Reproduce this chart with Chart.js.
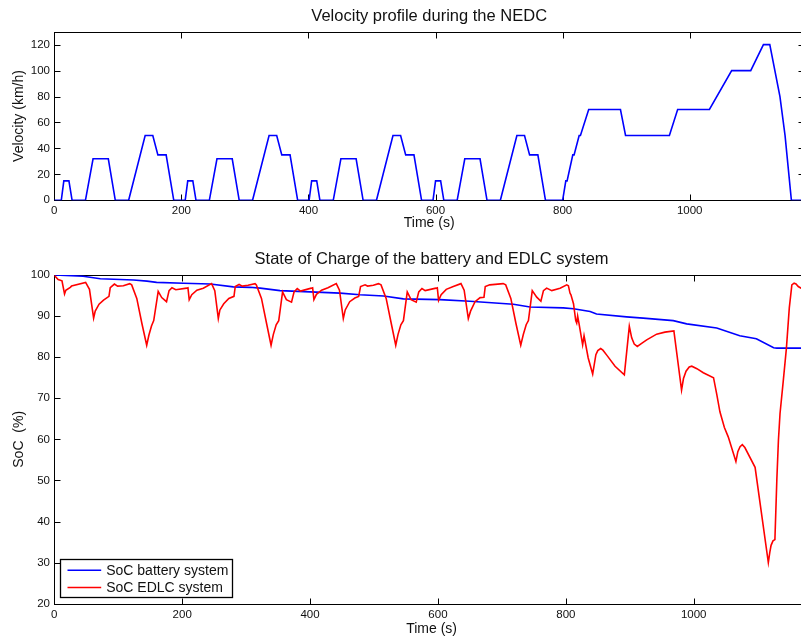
<!DOCTYPE html>
<html><head><meta charset="utf-8">
<script src="https://cdn.jsdelivr.net/npm/chart.js@4.4.0/dist/chart.umd.min.js"></script>
<style>
html,body{margin:0;padding:0;background:#fff;overflow:hidden;width:801px;height:639px;}
#wrap{position:relative;width:801px;height:639px;overflow:hidden;background:#fff;}
canvas{position:absolute;left:0;}
</style></head><body>
<div id="wrap">
<canvas id="c1" width="830" height="232" style="top:0;width:830px;height:232px"></canvas>
<canvas id="c2" width="830" height="409" style="top:230px;width:830px;height:409px"></canvas>
</div>
<script>
// ---- Data ----
const xTicks = [0, 200, 400, 600, 800, 1000];
const velTicks = [0, 20, 40, 60, 80, 100, 120];
const socTicks = [20, 30, 40, 50, 60, 70, 80, 90, 100];

const velTime = [0,11,15,23,28,49,61,85,96,117,143,155,163,176,188,
  206,210,218,223,244,256,280,291,312,338,350,358,371,383,
  401,405,413,418,439,451,475,486,507,533,545,553,566,578,
  596,600,608,613,634,646,670,681,702,728,740,748,761,773,
  800,805,807,816,818,826,828,841,891,899,968,981,1031,1066,1096,1116,1126,1142,1150,1160,1180];
const velocity = [0,0,15,15,0,0,32,32,0,0,50,50,35,35,0,
  0,15,15,0,0,32,32,0,0,50,50,35,35,0,
  0,15,15,0,0,32,32,0,0,50,50,35,35,0,
  0,15,15,0,0,32,32,0,0,50,50,35,35,0,
  0,15,15,35,35,50,50,70,70,50,50,70,70,100,100,120,120,80,50,0,0];

const batTime = [0,45,72,124,145,160,202,244,280,306,
  322,353,400,447,478,515,546,603,650,718,
  744,796,812,838,848,895,921,968,989,1036,
  1072,1098,1125,1130,1180];
const batSoc = [100,99.7,99.1,98.8,98.5,98.2,98.0,97.8,97.1,97.0,
  96.8,96.2,95.9,95.6,95.2,94.9,94.2,94.0,93.6,92.9,
  92.2,92.0,91.8,91.1,90.5,89.8,89.5,88.9,88.1,87.1,
  85.2,84.5,82.3,82.2,82.2];

const edlcTime = [0,6,12,16,18,25,27,49,55,61.5,
  64,70,77,85.5,87.5,94,99,108,118,121,
  129,137,144.5,148,152,155.5,162.5,168,175.5,179.5,
  184,190,207,209,211,215,223,233,246,251,
  256.5,259,265,273,281,283,289,294,303,314,
  316,324,332,339,342.5,347,351,357,363,371,
  375,380,385,402,404,406,410,418,428,441,
  446,452,455,462,470,476,479,486,490,499,
  507,511,519,527,534,537.5,542,546,552,558,
  566,570,575,580,597,599,601,605,613,624,
  636,641,647.5,651,658,666,672,674,681,702,
  706,714,722,729.5,733.5,738,741.5,747.5,754.5,761,
  765,770,778,791,801.5,804,806.5,808,812,815.5,
  817,818.5,820.5,826.3,828.5,835,842,847,850,854.5,
  858,864,877,891.5,899.3,903,907,911.8,918,926.5,
  942,955,969,981,984,988,993,997,1005,1015,
  1031,1036,1041,1048,1054,1066,1069,1072.5,1076,1080,
  1096,1116.7,1119,1121,1124,1127,1130,1132.5,1135,1140,
  1145,1149.5,1153.5,1157,1160,1163.5,1170,1180];
const edlcSoc = [99.9,98.9,98.6,95.4,96.3,97.0,97.3,98.2,96.5,89.5,
  91.2,92.9,93.9,94.8,96.9,97.8,97.3,97.4,97.9,97.6,
  94.3,88.2,82.9,85.4,87.6,88.9,96.0,94.5,93.5,96.2,
  96.9,96.4,96.8,96.9,94.0,95.2,96.3,96.8,97.9,96.2,
  89.4,91.5,93.0,94.3,94.8,97.2,97.7,97.3,97.5,97.9,
  97.6,94.3,88.2,82.9,85.5,87.9,88.9,95.9,94.0,93.4,
  95.9,96.7,96.1,96.8,96.9,94.0,95.3,96.3,96.9,97.9,
  96.3,89.4,91.5,93.5,94.4,94.8,97.2,97.6,97.3,97.5,
  97.9,97.6,94.3,88.2,82.9,85.5,87.9,88.9,95.9,94.0,
  93.4,95.9,96.7,96.2,96.8,96.9,93.8,95.2,96.5,97.2,
  97.9,96.3,89.4,91.2,93.5,94.5,94.6,97.2,97.6,97.9,
  97.6,94.3,88.2,82.9,85.5,87.9,88.9,96.2,94.6,93.6,
  96.2,96.8,96.2,96.8,97.6,97.4,95.6,95.2,93.0,88.9,
  88.3,90.0,88.3,83.0,85.2,79.8,75.9,80.6,81.6,82.1,
  81.7,80.5,77.8,75.7,87.5,84.7,83.2,82.6,83.3,84.2,
  85.6,86.1,86.4,72.0,74.8,76.6,77.6,77.8,77.2,76.2,
  75.0,71.0,66.7,62.9,60.6,54.6,57.0,58.2,58.7,58.0,
  53.2,30.0,32.5,34.2,35.3,35.6,50.1,59.8,66.3,74.1,
  82.2,92.0,97.6,98.0,97.8,97.2,96.6,96.3];

// ---- Styling ----
const FONT = '"Liberation Sans", Arial, Helvetica, sans-serif';
const TXT = '#111';
const pairs = (xs, ys) => xs.map((t, i) => ({x: t, y: ys[i]}));

const framePlugin = {
  id: 'frame',
  beforeDatasetsDraw(chart) {
    const {ctx, chartArea: a, scales: {x, y}} = chart;
    ctx.save();
    ctx.strokeStyle = '#000';
    ctx.lineWidth = 1;
    const L = Math.round(a.left) + 0.5, R = Math.round(a.right) + 0.5;
    const T = Math.round(a.top) + 0.5, B = Math.round(a.bottom) + 0.5;
    ctx.strokeRect(L, T, R - L, B - T);
    ctx.beginPath();
    const len = 6;
    x.ticks.forEach(t => {
      const px = Math.round(x.getPixelForValue(t.value)) + 0.5;
      ctx.moveTo(px, B); ctx.lineTo(px, B - len);
      ctx.moveTo(px, T); ctx.lineTo(px, T + len);
    });
    y.ticks.forEach(t => {
      const py = Math.round(y.getPixelForValue(t.value)) + 0.5;
      ctx.moveTo(L, py); ctx.lineTo(L + len, py);
      ctx.moveTo(R, py); ctx.lineTo(R - len, py);
    });
    ctx.stroke();
    ctx.restore();
  }
};

const legendPlugin = {
  id: 'boxLegend',
  afterDraw(chart) {
    const {ctx, chartArea: a} = chart;
    const x0 = Math.round(a.left + 6) + 0.5, y0 = Math.round(a.bottom - 44.5) + 0.5;
    const w = 172, h = 38;
    ctx.save();
    ctx.fillStyle = '#fff';
    ctx.fillRect(x0, y0, w, h);
    ctx.strokeStyle = '#000';
    ctx.lineWidth = 1.3;
    ctx.strokeRect(x0, y0, w, h);
    ctx.font = '14px ' + FONT;
    ctx.textBaseline = 'middle';
    ctx.textAlign = 'left';
    chart.data.datasets.forEach((ds, i) => {
      const yy = y0 + 10.7 + i * 17.3;
      ctx.strokeStyle = ds.borderColor;
      ctx.lineWidth = 1.6;
      ctx.beginPath();
      ctx.moveTo(x0 + 7, yy); ctx.lineTo(x0 + 40.7, yy);
      ctx.stroke();
      ctx.fillStyle = TXT;
      ctx.fillText(ds.label, x0 + 45.7, yy + 0.5);
    });
    ctx.restore();
  }
};

function xScale(maxV, h, titlePadBottom) {
  return {
    type: 'linear', min: 0, max: maxV,
    afterFit: s => { s.height = h; },
    afterBuildTicks: s => { s.ticks = xTicks.map(v => ({value: v})); },
    ticks: {color: TXT, font: {family: FONT, size: 11.5}, padding: 3.8, maxRotation: 0, autoSkip: false,
      callback: v => String(v)},
    grid: {display: false, drawTicks: false},
    border: {display: false},
    title: {display: true, text: 'Time (s)', color: TXT, font: {family: FONT, size: 14},
      padding: {top: 0, bottom: titlePadBottom}}
  };
}
function yScale(minV, maxV, ticksArr, label) {
  return {
    type: 'linear', min: minV, max: maxV,
    afterFit: s => { s.width = 54.3; },
    afterBuildTicks: s => { s.ticks = ticksArr.map(v => ({value: v})); },
    ticks: {color: TXT, font: {family: FONT, size: 11.5}, padding: 4.3, autoSkip: false,
      callback: v => String(v)},
    grid: {display: false, drawTicks: false},
    border: {display: false},
    title: {display: true, text: label, color: TXT, font: {family: FONT, size: 14},
      padding: {top: 10.8, bottom: 0}}
  };
}

new Chart(document.getElementById('c1'), {
  type: 'line',
  data: {datasets: [{
    label: 'Velocity', data: pairs(velTime, velocity),
    borderColor: '#0000ff', borderWidth: 1.6, pointRadius: 0, tension: 0, fill: false
  }]},
  options: {
    responsive: false, animation: false, devicePixelRatio: 1,
    layout: {padding: {left: 0, right: 25.9, top: 0, bottom: 0}},
    plugins: {
      legend: {display: false}, tooltip: {enabled: false},
      title: {display: true, text: 'Velocity profile during the NEDC', fullSize: false, color: TXT,
        font: {family: FONT, size: 16.5, weight: 'normal'}, padding: {top: 6.5, bottom: 5.4}}
    },
    scales: {x: xScale(1180, 31.7, 0.1), y: yScale(0, 130, velTicks, 'Velocity (km/h)')}
  },
  plugins: [framePlugin]
});

new Chart(document.getElementById('c2'), {
  type: 'line',
  data: {datasets: [
    {label: 'SoC battery system', data: pairs(batTime, batSoc), order: 1,
     borderColor: '#0000ff', borderWidth: 1.6, pointRadius: 0, tension: 0, fill: false},
    {label: 'SoC EDLC system', data: pairs(edlcTime, edlcSoc), order: 0,
     borderColor: '#ff0000', borderWidth: 1.6, pointRadius: 0, tension: 0, fill: false}
  ]},
  options: {
    responsive: false, animation: false, devicePixelRatio: 1,
    layout: {padding: {left: 0, right: 21.2, top: 0, bottom: 0}},
    plugins: {
      legend: {display: false}, tooltip: {enabled: false},
      title: {display: true, text: 'State of Charge of the battery and EDLC system', fullSize: false, color: TXT,
        font: {family: FONT, size: 16.5, weight: 'normal'}, padding: {top: 19.8, bottom: 5.4}}
    },
    scales: {x: xScale(1180, 35.3, 1.9), y: yScale(20, 100, socTicks, 'SoC  (%)')}
  },
  plugins: [framePlugin, legendPlugin]
});
</script>
</body></html>
